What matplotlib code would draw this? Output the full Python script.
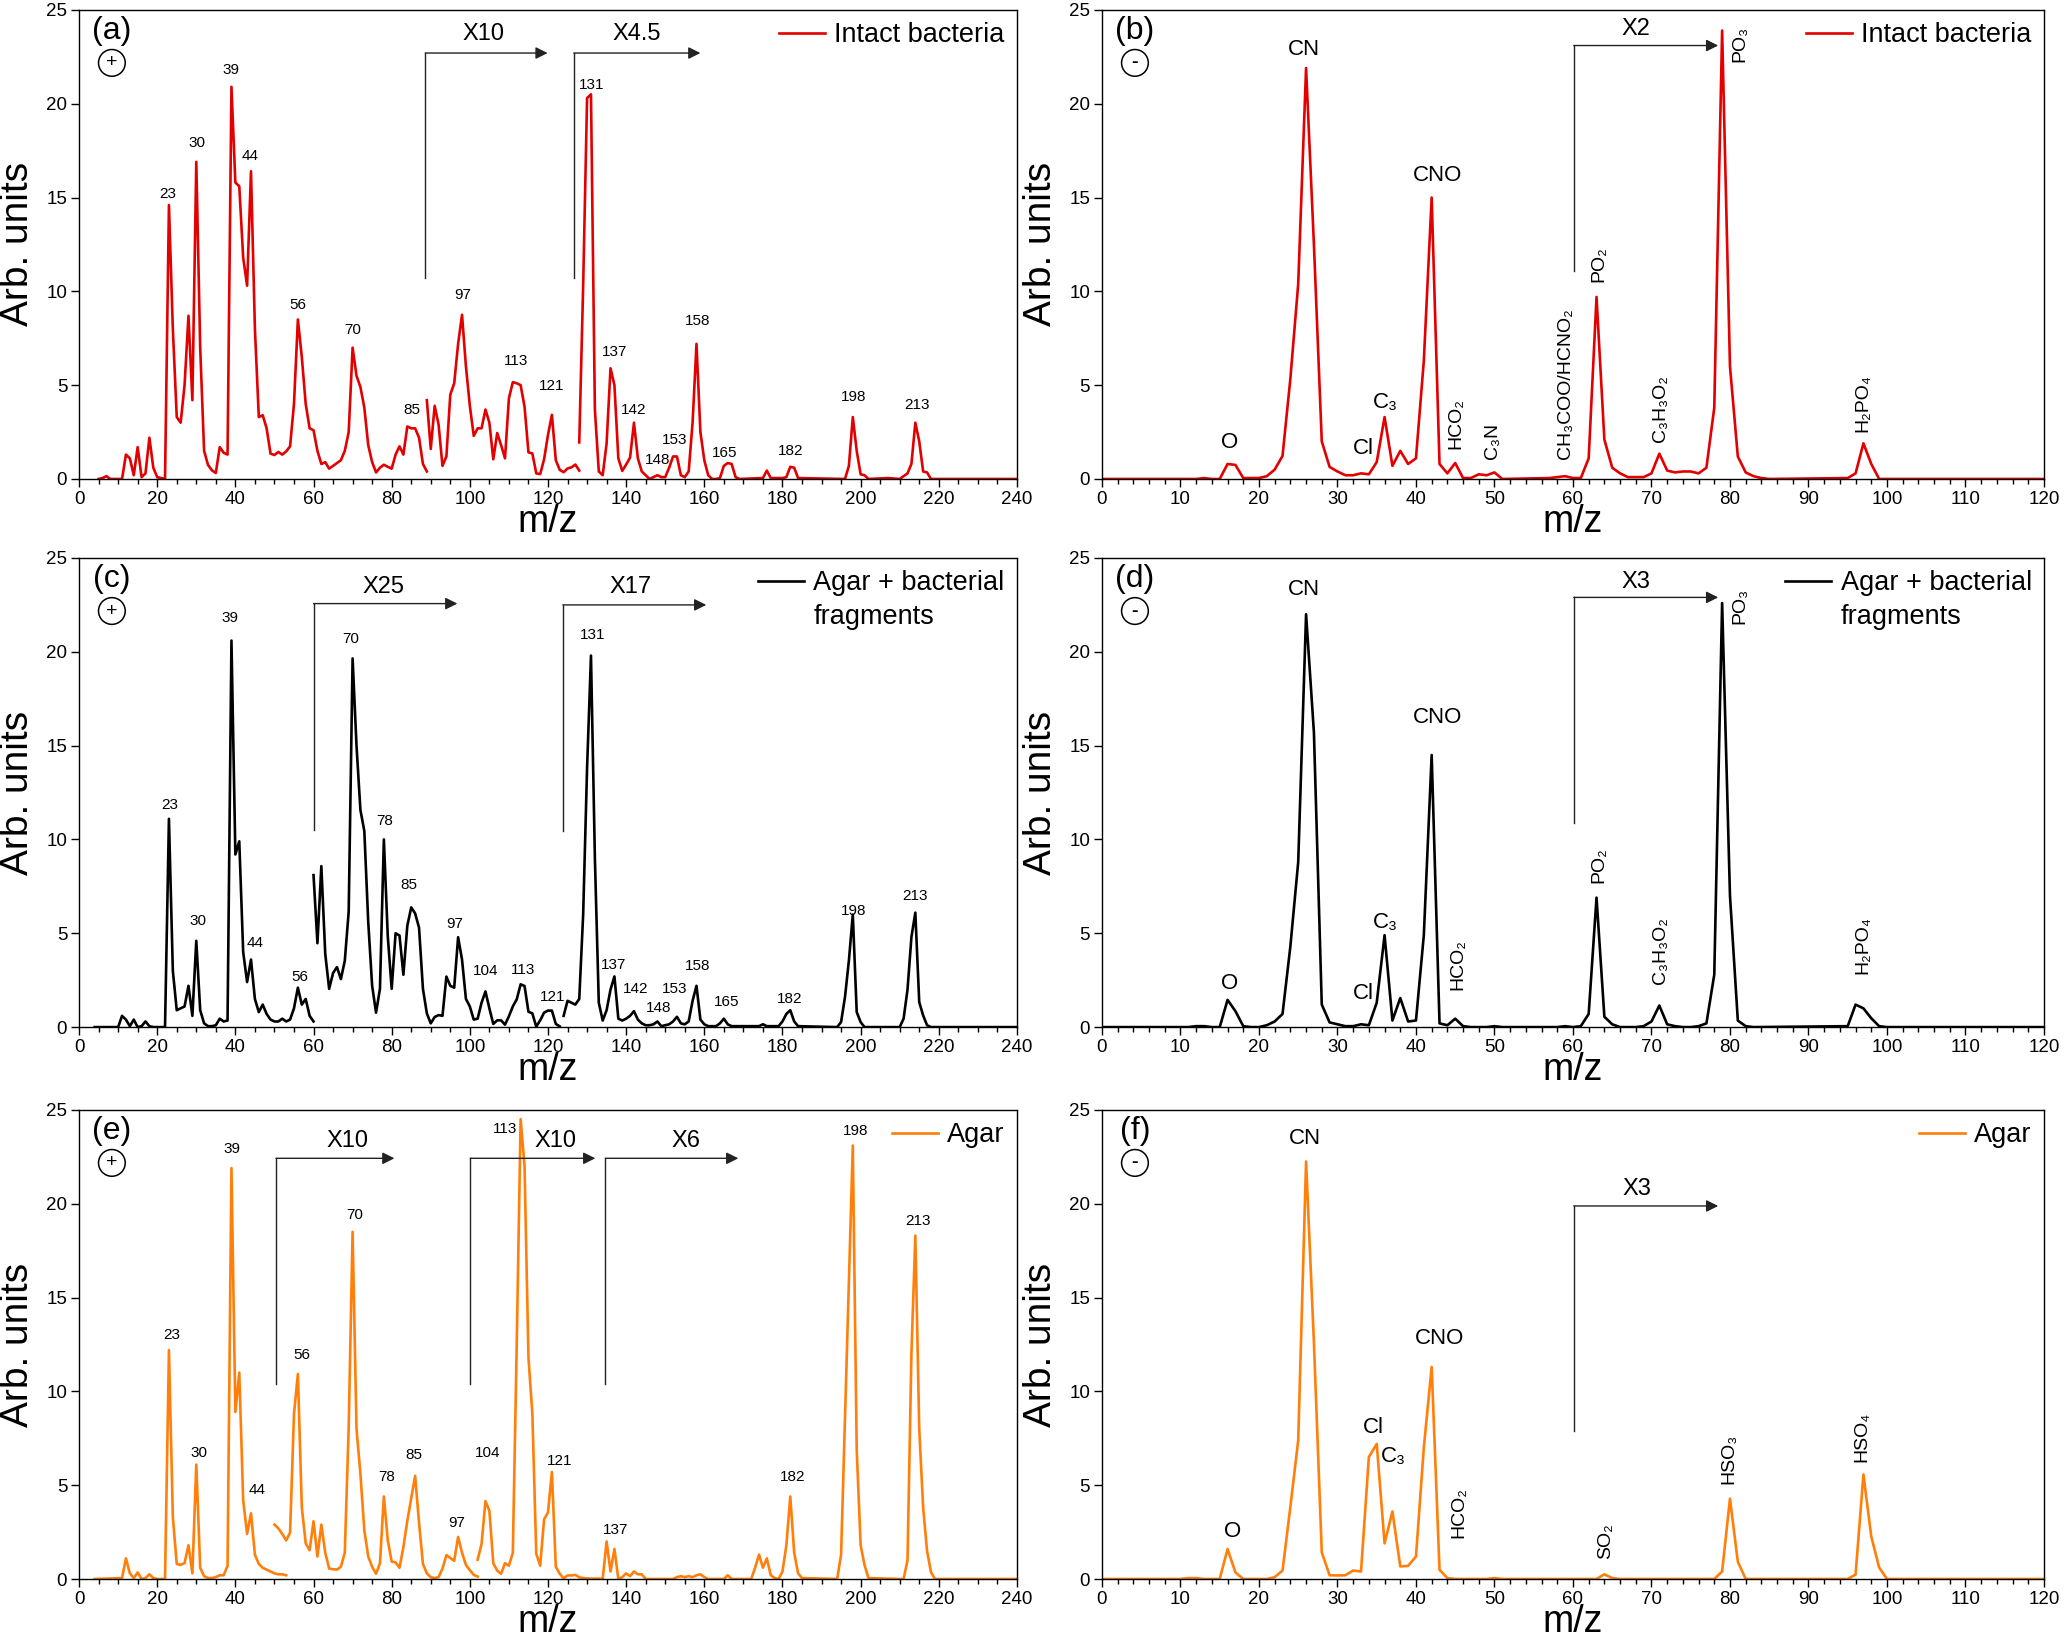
import numpy as np
import matplotlib.pyplot as plt
from matplotlib.ticker import MultipleLocator

plt.rcParams['font.family'] = ['Liberation Sans', 'DejaVu Sans']

""" spectra read off the figure (m/z, intensity), one list per drawn segment """

# (a) positive ions, intact bacteria
a1_mz = [5, 6, 7, 8] + list(range(11, 21)) + [22] + list(range(23, 90))
a1_int = [0, 0.05, 0.15, 0, 0, 1.3, 1.1, 0.2, 1.7, 0.1, 0.3, 2.2, 0.6, 0.1, 0,
          14.6, 8.0, 3.3, 3.0, 5.0, 8.7, 4.2, 16.9, 7.0, 1.5,
          0.75, 0.46, 0.32, 1.7, 1.4, 1.3, 20.9, 15.8, 15.6, 11.8,
          10.3, 16.4, 8.0, 3.3, 3.4, 2.7, 1.35, 1.28, 1.44, 1.3,
          1.47, 1.74, 4.0, 8.5, 6.5, 4.0, 2.7, 2.6, 1.5, 0.8,
          0.9, 0.55, 0.7, 0.85, 1.0, 1.5, 2.5, 7.0, 5.5, 4.9,
          3.8, 1.8, 0.9, 0.35, 0.6, 0.76, 0.65, 0.55, 1.3, 1.74,
          1.3, 2.8, 2.7, 2.7, 2.2, 0.8, 0.4]
a2_mz = list(range(89, 129))
a2_int = [4.2, 1.6, 3.9, 2.9, 0.7, 1.2, 4.5, 5.1, 7.2, 8.75,
          6.0, 3.9, 2.3, 2.7, 2.7, 3.7, 3.0, 1.05, 2.45, 1.8,
          1.1, 4.3, 5.16, 5.1, 5.0, 3.85, 1.42, 1.36, 0.3, 0.26,
          1.05, 2.35, 3.42, 1.0, 0.49, 0.36, 0.56, 0.62, 0.77, 0.45]
a3_mz = list(range(128, 170)) + [175, 176, 177, 180, 181, 182, 183, 184, 196, 197, 198, 199,
                                 200, 201, 202, 207, 210, 212, 213, 214, 215, 216, 217, 218, 240]
a3_int = [1.95, 10.3, 20.3, 20.5, 3.7, 0.4, 0.2, 1.9, 5.9, 5.0,
          1.1, 0.43, 0.77, 1.14, 3.0, 1.1, 0.4, 0.2, 0.0, 0.1,
          0.2, 0.1, 0.1, 0.6, 1.2, 1.2, 0.2, 0.1, 0.4, 3.0,
          7.2, 2.5, 1.0, 0.2, 0.0, 0.0, 0.05, 0.7, 0.85, 0.8,
          0.1, 0.0,
          0.05, 0.45, 0.05, 0.05, 0.1, 0.65, 0.6, 0.05, 0.0, 0.7, 3.3, 1.5,
          0.25, 0.2, 0.0, 0.05, 0.0, 0.3, 0.8, 3.0, 2.0, 0.4, 0.35, 0.0, 0.0]

# (b) negative ions, intact bacteria
b_mz = [0, 12] + list(range(13, 52)) + list(range(57, 86)) + [95, 96, 97, 98, 99, 120]
b_int = [0, 0,
         0.05, 0.0, 0.0, 0.8, 0.75, 0.05, 0.05, 0.05, 0.15, 0.5,
         1.23, 5.35, 10.4, 21.9, 12.5, 2.0, 0.64, 0.4, 0.2, 0.2,
         0.3, 0.25, 0.9, 3.3, 0.7, 1.5, 0.8, 1.1, 6.3, 15.0,
         0.8, 0.3, 0.85, 0.05, 0.05, 0.25, 0.2, 0.35, 0.0,
         0.05, 0.1, 0.15, 0.05, 0.05, 1.1, 9.7, 2.1, 0.6, 0.3,
         0.1, 0.1, 0.1, 0.3, 1.35, 0.45, 0.35, 0.4, 0.4, 0.3,
         0.6, 3.8, 23.9, 6.0, 1.2, 0.35, 0.15, 0.05, 0.0,
         0.05, 0.3, 1.9, 0.8, 0.0, 0.0]

# (c) positive ions, agar + bacterial fragments
c1_mz = [4] + list(range(10, 20)) + list(range(22, 61))
c1_int = [0.0,
          0.0, 0.6, 0.4, 0.05, 0.4, 0.0, 0.05, 0.3, 0.05, 0.0,
          0.0, 11.1, 3.0, 0.9, 1.0, 1.1, 2.2, 0.6, 4.6, 0.9,
          0.2, 0.05, 0.05, 0.1, 0.45, 0.3, 0.35, 20.6, 9.2, 9.9,
          4.0, 2.4, 3.6, 1.5, 0.8, 1.2, 0.7, 0.4, 0.3, 0.3,
          0.45, 0.3, 0.4, 1.0, 2.1, 1.2, 1.5, 0.6, 0.3]
c2_mz = list(range(60, 124))
c2_int = [8.1, 4.47, 8.58, 3.9, 2.04, 2.88, 3.2, 2.56, 3.53, 6.15,
          19.65, 15.0, 11.57, 10.45, 5.6, 2.2, 0.77, 2.04, 10.0, 4.84,
          2.04, 5.0, 4.88, 2.79, 5.4, 6.38, 6.06, 5.3, 2.04, 0.73,
          0.2, 0.54, 0.64, 0.6, 2.69, 2.2, 2.1, 4.79, 3.6, 1.5,
          1.1, 0.4, 0.45, 1.3, 1.9, 1.0, 0.17, 0.36, 0.36, 0.13,
          0.58, 1.1, 1.48, 2.28, 2.19, 0.82, 0.73, 0.02, 0.36, 0.77,
          0.88, 0.88, 0.17, 0.04]
c3_mz = list(range(124, 168)) + [174, 175, 176, 179, 180, 181, 182, 183, 184,
                                 194, 195, 196, 197, 198, 199, 200, 201,
                                 210, 211, 212, 213, 214, 215, 216, 217, 218, 240]
c3_int = [0.6, 1.4, 1.3, 1.2, 1.5, 6.0, 13.8, 19.8, 9.0, 1.3,
          0.35, 0.9, 2.0, 2.7, 0.45, 0.35, 0.45, 0.6, 0.85, 0.4,
          0.2, 0.1, 0.1, 0.15, 0.3, 0.05, 0.1, 0.15, 0.3, 0.55,
          0.2, 0.15, 0.3, 1.4, 2.2, 0.4, 0.15, 0.05, 0.05, 0.05,
          0.2, 0.45, 0.15, 0.05,
          0.05, 0.15, 0.05, 0.05, 0.3, 0.7, 0.9, 0.3, 0.05,
          0.0, 0.27, 1.6, 3.55, 6.0, 0.8, 0.27, 0.0,
          0.0, 0.45, 2.0, 4.8, 6.1, 1.33, 0.62, 0.1, 0.0, 0.0]

# (d) negative ions, agar + bacterial fragments
d_mz = [0] + list(range(11, 52)) + list(range(58, 84)) + [95, 96, 97, 98, 99, 100, 120]
d_int = [0.0,
         0.0, 0.05, 0.05, 0.0, 0.0, 1.45, 0.85, 0.05, 0.0, 0.0,
         0.1, 0.3, 0.7, 4.3, 8.8, 22.0, 15.7, 1.2, 0.25, 0.15,
         0.05, 0.05, 0.15, 0.1, 1.3, 4.9, 0.35, 1.55, 0.3, 0.35,
         4.9, 14.5, 0.2, 0.1, 0.45, 0.05, 0.0, 0.0, 0.0, 0.05,
         0.0,
         0.0, 0.05, 0.0, 0.05, 0.7, 6.9, 0.55, 0.15, 0.0, 0.0,
         0.0, 0.05, 0.3, 1.15, 0.15, 0.05, 0.0, 0.0, 0.05, 0.2,
         2.8, 22.6, 7.0, 0.35, 0.05, 0.0,
         0.05, 1.2, 1.0, 0.47, 0.05, 0.0, 0.0]

# (e) positive ions, agar
e1_mz = [4] + list(range(11, 21)) + list(range(22, 54))
e1_int = [0.0,
          0.05, 1.1, 0.3, 0.05, 0.35, 0.0, 0.05, 0.25, 0.05, 0.0,
          0.0, 12.2, 3.3, 0.8, 0.75, 0.85, 1.8, 0.3, 6.1, 0.6,
          0.15, 0.05, 0.05, 0.1, 0.2, 0.2, 0.7, 21.9, 8.9, 11.0,
          4.2, 2.4, 3.5, 1.3, 0.8, 0.6, 0.5, 0.4, 0.3, 0.25,
          0.25, 0.2]
e2_mz = list(range(50, 103))
e2_int = [2.9, 2.7, 2.4, 2.06, 2.47, 8.78, 10.93, 3.83, 1.9, 1.53,
          3.08, 1.2, 2.9, 1.4, 0.56, 0.52, 0.5, 0.65, 1.4, 8.1,
          18.5, 8.0, 5.6, 2.6, 1.2, 0.65, 0.28, 0.84, 4.4, 2.06,
          0.93, 0.88, 0.6, 1.7, 3.1, 4.3, 5.5, 3.0, 0.8, 0.3,
          0.1, 0.05, 0.1, 0.56, 1.27, 1.12, 0.97, 2.24, 1.4, 0.75,
          0.47, 0.22, 0.13]
e3_mz = list(range(102, 135))
e3_int = [1.03, 1.87, 4.15, 3.64, 0.84, 0.45, 0.28, 0.84, 0.71, 1.4,
          12.5, 24.5, 22.0, 11.8, 8.8, 1.35, 0.71, 3.18, 3.55, 5.7,
          0.65, 0.28, 0.04, 0.19, 0.19, 0.22, 0.09, 0.05, 0.03, 0.02,
          0.02, 0.02, 0.0]
e4_mz = list(range(134, 146)) + [152, 153, 154, 155, 156, 157, 158, 159, 160, 161,
                                 165, 166, 167, 172, 173, 174, 175, 176, 177, 178, 179,
                                 180, 181, 182, 183, 184, 185, 194, 195, 198, 199, 200, 201, 202,
                                 210, 211, 212, 213, 214, 215, 216, 217, 218, 219, 240]
e4_int = [0.0, 2.0, 0.4, 1.6, 0.0, 0.1, 0.3, 0.15, 0.4, 0.25, 0.25, 0.0,
          0.0, 0.1, 0.15, 0.1, 0.15, 0.1, 0.2, 0.25, 0.1, 0.0,
          0.0, 0.2, 0.0, 0.0, 0.6, 1.3, 0.6, 1.1, 0.2, 0.05, 0.0,
          0.4, 1.8, 4.4, 1.4, 0.3, 0.05, 0.0, 1.3, 23.1, 6.9, 1.8, 0.75, 0.05,
          0.0, 0.0, 1.0, 12.0, 18.3, 8.0, 3.8, 1.5, 0.37, 0.0, 0.0]

# (f) negative ions, agar
f_mz = [0, 10] + list(range(11, 46)) + [49, 50, 51, 63, 64, 65, 66, 78, 79, 80, 81, 82,
                                        95, 96, 97, 98, 99, 100, 120]
f_int = [0.0, 0.0,
         0.05, 0.05, 0.0, 0.0, 0.0, 1.6, 0.35, 0.0, 0.0, 0.0,
         0.0, 0.1, 0.45, 3.85, 7.4, 22.25, 12.6, 1.42, 0.2, 0.19,
         0.2, 0.45, 0.4, 6.5, 7.2, 1.9, 3.6, 0.67, 0.7, 1.2,
         7.0, 11.3, 0.49, 0.05, 0.0,
         0.0, 0.05, 0.0, 0.0, 0.25, 0.05, 0.0, 0.0, 0.4, 4.28, 0.92, 0.0,
         0.0, 0.24, 5.57, 2.26, 0.62, 0.0, 0.0]

""" peak annotations (text, m/z, height) """

a_peaks = [('23', 22.6, 15.2), ('30', 30.1, 17.9), ('39', 38.9, 21.8), ('44', 43.8, 17.2),
           ('56', 55.9, 9.27), ('70', 69.9, 7.96), ('85', 85.2, 3.7), ('97', 98.1, 9.8),
           ('113', 111.8, 6.3), ('121', 121.0, 4.97), ('131', 131.1, 21.0), ('137', 137.0, 6.75),
           ('142', 141.8, 3.66), ('148', 148.0, 1.0), ('153', 152.4, 2.1), ('158', 158.2, 8.43),
           ('165', 165.3, 1.38), ('182', 182.2, 1.5), ('198', 198.3, 4.36), ('213', 214.5, 3.94)]
c_peaks = [('23', 23.1, 11.85), ('30', 30.5, 5.65), ('39', 38.7, 21.8), ('44', 45.1, 4.47),
           ('56', 56.4, 2.66), ('70', 69.6, 20.66), ('78', 78.1, 11.0), ('85', 84.5, 7.55),
           ('97', 96.2, 5.5), ('104', 104.1, 2.97), ('113', 113.7, 3.03), ('121', 121.3, 1.6),
           ('131', 131.4, 20.9), ('137', 136.8, 3.3), ('142', 142.3, 2.04), ('148', 148.2, 1.0),
           ('153', 152.4, 2.04), ('158', 158.3, 3.25), ('165', 165.6, 1.33), ('182', 181.9, 1.48),
           ('198', 198.2, 6.19), ('213', 213.9, 7.0)]
e_peaks = [('23', 23.6, 13.0), ('30', 30.8, 6.73), ('39', 39.1, 22.9), ('44', 45.5, 4.76),
           ('56', 57.0, 11.92), ('70', 70.6, 19.38), ('78', 78.7, 5.42), ('85', 85.8, 6.6),
           ('97', 96.7, 2.99), ('104', 104.5, 6.73), ('113', 109.0, 24.0), ('121', 122.9, 6.3),
           ('137', 137.2, 2.6), ('182', 182.7, 5.42), ('198', 198.7, 23.9), ('213', 214.6, 19.1)]

b_ions = [('O', 16.3, 1.95), ('CN', 25.7, 22.9), ('Cl', 33.3, 1.6), ('C₃', 36.1, 4.1), ('CNO', 42.8, 16.2)]
b_ions_v = [('HCO₂', 45.1, 1.6), ('C₃N', 49.7, 1.05), ('CH₃COO/HCNO₂', 59.1, 1.05), ('PO₂', 63.3, 10.5),
            ('C₃H₃O₂', 71.1, 1.95), ('PO₃', 81.2, 22.2), ('H₂PO₄', 96.9, 2.5)]
d_ions = [('O', 16.3, 2.3), ('CN', 25.7, 23.3), ('Cl', 33.3, 1.8), ('C₃', 36.1, 5.6), ('CNO', 42.8, 16.5)]
d_ions_v = [('HCO₂', 45.3, 1.96), ('PO₂', 63.3, 7.66), ('C₃H₃O₂', 71.1, 2.3), ('PO₃', 81.2, 21.5),
            ('H₂PO₄', 96.9, 2.84)]
f_ions = [('O', 16.6, 2.54), ('CN', 25.9, 23.47), ('Cl', 34.6, 8.09), ('C₃', 37.1, 6.52), ('CNO', 43.0, 12.82)]
f_ions_v = [('HCO₂', 45.5, 2.2), ('SO₂', 64.2, 1.08), ('HSO₃', 79.8, 5.06), ('HSO₄', 96.8, 6.24)]

# scale-factor brackets: (x start, y bottom, y top, x arrow end, text, text x, text y)
a_brk = [(88.6, 10.7, 22.7, 119.9, 'X10', 103.5, 23.7), (126.6, 10.7, 22.7, 159.0, 'X4.5', 142.8, 23.7)]
b_brk = [(60.1, 11.06, 23.1, 78.5, 'X2', 68.0, 24.0)]
c_brk = [(60.0, 10.5, 22.57, 96.8, 'X25', 77.8, 23.45), (123.8, 10.45, 22.5, 160.5, 'X17', 141.1, 23.45)]
d_brk = [(60.1, 10.9, 22.9, 78.5, 'X3', 68.0, 23.7)]
e_brk = [(50.4, 10.37, 22.42, 80.7, 'X10', 68.6, 23.35), (100.1, 10.37, 22.42, 132.1, 'X10', 122.0, 23.35),
         (134.7, 10.37, 22.42, 168.7, 'X6', 155.2, 23.35)]
f_brk = [(60.1, 7.87, 19.88, 78.5, 'X3', 68.1, 20.76)]

RED = '#e30000'
BLACK = '#000000'
ORANGE = '#ff7f0a'


def join(*segs):
    xs, ys = [], []
    for mz, inten in segs:
        xs += list(mz) + [np.nan]
        ys += list(inten) + [np.nan]
    return xs, ys


panels = [
    dict(pos=[0.0383, 0.709, 0.4544, 0.285], segs=[(a1_mz, a1_int), (a2_mz, a2_int), (a3_mz, a3_int)],
         color=RED, xmax=240, major=20, minor=5, tag='(a)', sign='+', leg=['Intact bacteria'],
         peaks=a_peaks, ions=[], ions_v=[], brk=a_brk),
    dict(pos=[0.5339, 0.709, 0.4564, 0.285], segs=[(b_mz, b_int)],
         color=RED, xmax=120, major=10, minor=2, tag='(b)', sign='-', leg=['Intact bacteria'],
         peaks=[], ions=b_ions, ions_v=b_ions_v, brk=b_brk),
    dict(pos=[0.0383, 0.376, 0.4544, 0.285], segs=[(c1_mz, c1_int), (c2_mz, c2_int), (c3_mz, c3_int)],
         color=BLACK, xmax=240, major=20, minor=5, tag='(c)', sign='+', leg=['Agar + bacterial', 'fragments'],
         peaks=c_peaks, ions=[], ions_v=[], brk=c_brk),
    dict(pos=[0.5339, 0.376, 0.4564, 0.285], segs=[(d_mz, d_int)],
         color=BLACK, xmax=120, major=10, minor=2, tag='(d)', sign='-', leg=['Agar + bacterial', 'fragments'],
         peaks=[], ions=d_ions, ions_v=d_ions_v, brk=d_brk),
    dict(pos=[0.0383, 0.0407, 0.4544, 0.285], segs=[(e1_mz, e1_int), (e2_mz, e2_int), (e3_mz, e3_int), (e4_mz, e4_int)],
         color=ORANGE, xmax=240, major=20, minor=5, tag='(e)', sign='+', leg=['Agar'],
         peaks=e_peaks, ions=[], ions_v=[], brk=e_brk),
    dict(pos=[0.5339, 0.0407, 0.4564, 0.285], segs=[(f_mz, f_int)],
         color=ORANGE, xmax=120, major=10, minor=2, tag='(f)', sign='-', leg=['Agar'],
         peaks=[], ions=f_ions, ions_v=f_ions_v, brk=f_brk),
]

fig = plt.figure(figsize=(20.64, 16.46), dpi=100)
second_lines = []

for p in panels:
    ax = fig.add_axes(p['pos'])
    xs, ys = join(*p['segs'])
    line, = ax.plot(xs, ys, color=p['color'], lw=1.9)

    ax.set_xlim(0, p['xmax'])
    ax.set_ylim(0, 25)
    ax.xaxis.set_major_locator(MultipleLocator(p['major']))
    ax.xaxis.set_minor_locator(MultipleLocator(p['minor']))
    ax.yaxis.set_major_locator(MultipleLocator(5))
    ax.tick_params(which='major', direction='out', length=5.5, width=1.0, labelsize=13.5, pad=3)
    ax.tick_params(axis='x', which='minor', direction='out', length=3.5, width=1.0)
    for s in ax.spines.values():
        s.set_linewidth(1.0)

    ax.set_xlabel('m/z', fontsize=27, va='center')
    ax.set_ylabel('Arb. units', fontsize=28)
    ax.xaxis.set_label_coords(0.5, -0.092)
    ax.yaxis.set_label_coords(-0.046, 0.5)

    for txt, x, y in p['peaks']:
        ax.text(x, y, txt, ha='center', va='center', fontsize=11)
    for txt, x, y in p['ions']:
        ax.text(x, y, txt, ha='center', va='center', fontsize=16)
    for txt, x, y in p['ions_v']:
        ax.text(x, y, txt, ha='center', va='bottom', rotation=90, fontsize=14)

    for xv, yb, yt, xe, txt, xt, yt2 in p['brk']:
        ax.plot([xv, xv], [yb, yt], color='#222222', lw=1.0)
        ax.annotate('', xy=(xe, yt), xytext=(xv, yt),
                    arrowprops=dict(arrowstyle='-|>', color='#222222', lw=1.0,
                                    shrinkA=0, shrinkB=0, mutation_scale=18))
        ax.text(xt, yt2, txt, ha='center', va='center', fontsize=17)

    ax.text(0.035, 0.955, p['tag'], transform=ax.transAxes, ha='center', va='center', fontsize=23)
    ax.text(0.035, 0.887, p['sign'], transform=ax.transAxes, ha='center', va='center', fontsize=14,
            fontweight='bold' if p['sign'] == '-' else 'normal',
            bbox=dict(boxstyle='circle,pad=0.25', fc='white', ec='black', lw=1.1))

    leg = ax.legend([line], [p['leg'][0]], loc='upper right', frameon=False, fontsize=19.5,
                    handlelength=1.7, handletextpad=0.35, borderaxespad=0.25, borderpad=0.2)
    if len(p['leg']) > 1:
        second_lines.append((ax, leg, p['leg'][1]))

# second legend line sits under the first one, left-aligned with it
fig.canvas.draw()
for ax, leg, txt in second_lines:
    bb = leg.get_texts()[0].get_window_extent()
    x0, yc = ax.transAxes.inverted().transform((bb.x0, (bb.y0 + bb.y1) / 2 - 34))
    ax.text(x0, yc, txt, transform=ax.transAxes, ha='left', va='center', fontsize=19.5)

fig.savefig('out.png', dpi=100)
